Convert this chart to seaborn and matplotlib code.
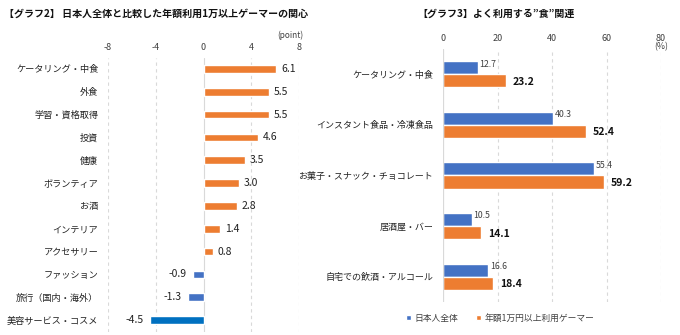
import matplotlib
matplotlib.use("Agg")
import matplotlib.pyplot as plt
import seaborn as sns
import pandas as pd
from matplotlib.patches import Patch

sns.set_theme(style="white")
plt.rcParams['font.family'] = ['Noto Sans CJK JP', 'DejaVu Sans']

# ---- data: graph 2 ----
cats2 = ["ケータリング・中食", "外食", "学習・資格取得", "投資", "健康", "ボランティア",
         "お酒", "インテリア", "アクセサリー", "ファッション", "旅行（国内・海外）", "美容サービス・コスメ"]
vals2 = [6.1, 5.5, 5.5, 4.6, 3.5, 3.0, 2.8, 1.4, 0.8, -0.9, -1.3, -4.5]
xticks2 = [-8, -4, 0, 4, 8]

# ---- data: graph 3 ----
cats3 = ["ケータリング・中食", "インスタント食品・冷凍食品", "お菓子・スナック・チョコレート",
         "居酒屋・バー", "自宅での飲酒・アルコール"]
all_jp = [12.7, 40.3, 55.4, 10.5, 16.6]
gamers = [23.2, 52.4, 59.2, 14.1, 18.4]
series = ["日本人全体", "年額1万円以上利用ゲーマー"]
xticks3 = [0, 20, 40, 60, 80]

ORANGE = "#ED7D31"
BLUE = "#4472C4"
DBLUE = "#0070C0"
GRID = "#D9D9D9"
TXT = "#404040"

fig = plt.figure(figsize=(6.8, 3.35), dpi=100)

# ---------- left chart ----------
ax1 = fig.add_axes([108/680, 1-331.5/335, (299-108)/680, (331.5-57.5)/335])
cols = []
for i, v in enumerate(vals2):
    if v >= 0:
        cols.append(ORANGE)
    elif i == len(vals2) - 1:
        cols.append(DBLUE)
    else:
        cols.append(BLUE)
df2 = pd.DataFrame({"cat": cats2, "val": vals2})
sns.barplot(data=df2, x="val", y="cat", hue="cat", palette=cols, legend=False,
            width=0.34, orient="h", ax=ax1, saturation=1)
ax1.set_xlim(-8, 8)
ax1.set_ylim(len(cats2) - 0.5, -0.5)
ax1.set_xticks(xticks2)
ax1.set_xticklabels([str(t) for t in xticks2])
for t in xticks2:
    if t == 0:
        ax1.axvline(t, color=GRID, lw=0.8, zorder=0)
    else:
        ax1.axvline(t, color=GRID, lw=0.8, ls=(0, (3, 3)), zorder=0)
ax1.xaxis.tick_top()
ax1.tick_params(axis="x", length=0, pad=4, labelsize=6.5, labelcolor=TXT)
ax1.tick_params(axis="y", length=0, pad=7, labelsize=6.6, labelcolor="#222222")
ax1.set_xlabel("")
ax1.set_ylabel("")
for s in ax1.spines.values():
    s.set_visible(False)
for i, v in enumerate(vals2):
    if v >= 0:
        ax1.text(v + 0.4, i, f"{v:.1f}", va="center", ha="left", fontsize=7.5, color="#222222")
    else:
        ax1.text(v - 0.5, i, f"{v:.1f}", va="center", ha="right", fontsize=7.5, color="#222222")
fig.text(290/680, 1-35/335, "(point)", ha="center", va="center", fontsize=6, color=TXT)
fig.text(4/680, 1-14/335, "【グラフ2】 日本人全体と比較した年額利用1万以上ゲーマーの関心",
         ha="left", va="center", fontsize=7.2, fontweight="bold", color="#111111")

# ---------- right chart ----------
ax2 = fig.add_axes([443/680, 1-302/335, (661-443)/680, (302-49)/335])
df3 = pd.DataFrame({
    "cat": cats3 * 2,
    "val": all_jp + gamers,
    "series": [series[0]] * len(cats3) + [series[1]] * len(cats3),
})
sns.barplot(data=df3, x="val", y="cat", hue="series", palette=[BLUE, ORANGE],
            width=0.52, orient="h", ax=ax2, saturation=1, legend=False)
ax2.set_xlim(0, 80)
ax2.set_ylim(len(cats3) - 0.5, -0.5)
ax2.set_xticks(xticks3)
for t in xticks3[1:]:
    ax2.axvline(t, color=GRID, lw=0.8, ls=(0, (3, 3)), zorder=0)
ax2.axvline(0, color=GRID, lw=0.9, zorder=3)
ax2.xaxis.tick_top()
ax2.tick_params(axis="x", length=0, pad=4, labelsize=6.5, labelcolor=TXT)
ax2.tick_params(axis="y", length=0, pad=7, labelsize=6.5, labelcolor="#222222")
ax2.set_xlabel("")
ax2.set_ylabel("")
for s in ax2.spines.values():
    s.set_visible(False)
for i in range(len(cats3)):
    ax2.text(all_jp[i] + 0.6, i - 0.2, f"{all_jp[i]:.1f}", va="center", ha="left",
             fontsize=6.3, color=TXT)
    ax2.text(gamers[i] + 2.5, i + 0.15, f"{gamers[i]:.1f}", va="center", ha="left",
             fontsize=7.5, fontweight="bold", color="#111111")
fig.text(661/680, 1-47/335, "(%)", ha="center", va="center", fontsize=6.3, color=TXT)
fig.text(496/680, 1-14/335, "【グラフ3】よく利用する”食”関連", ha="center", va="center",
         fontsize=7.2, fontweight="bold", color="#111111")

handles = [Patch(facecolor=BLUE, label=series[0]), Patch(facecolor=ORANGE, label=series[1])]
fig.legend(handles=handles, loc="center", bbox_to_anchor=(500/680, 1-318/335), ncol=2,
           frameon=False, fontsize=6.3, handlelength=0.6, handleheight=0.6,
           handletextpad=0.4, columnspacing=2.0, labelcolor=TXT)

fig.savefig("out.png", dpi=100)
